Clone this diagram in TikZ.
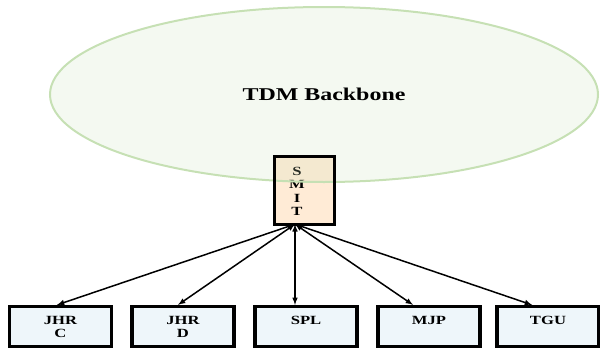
\documentclass[tikz,border=0pt]{standalone}
\usepackage{fontspec}
\setmainfont[FakeStretch=1.33]{Liberation Serif}
\usepackage{tikz}
\usetikzlibrary{positioning}
\usetikzlibrary{arrows}
\usetikzlibrary{shapes}
\definecolor{siteblue}{RGB}{238,246,250}
\definecolor{smitorange}{RGB}{255,235,214}
\definecolor{backgreen}{RGB}{200,225,185}
\definecolor{backline}{RGB}{198,224,180}

\begin{document}
\begin{tikzpicture}[x=1pt,y=-1pt,>=latex,
	site/.style={draw=black,line width=3.2pt,fill=siteblue,minimum width=102pt,minimum height=40pt,inner sep=0pt,align=center,font=\fontsize{12.5}{13}\selectfont\bfseries},
	oneline/.style={text depth=13pt},
	link/.style={<->,line width=1.5pt}]
	\useasboundingbox (0,0) rectangle (600,348);

	\node[fill=smitorange,minimum width=59pt,minimum height=67pt,inner sep=0pt,
		label={[xshift=-7.5pt,yshift=-1pt,align=center,font=\fontsize{12.5}{13.5}\selectfont\bfseries]center:{S\\M\\I\\T}}] (smit) at (304.5,190.5) {};

	\node[ellipse,draw=backline,line width=2pt,fill=backgreen,fill opacity=0.2,draw opacity=1,text opacity=1,
		minimum width=548pt,minimum height=175pt,inner sep=0pt,font=\fontsize{18}{20}\selectfont\bfseries] (tdm) at (324,94.5) {TDM Backbone};

	\draw[line width=3.2pt] (smit.north west) rectangle (smit.south east);

	\node[site] (jhrc) at (60.5,326.5) {JHR\\C};
	\node[site] (jhrd) at (183,326.5) {JHR\\D};
	\node[site,oneline] (spl) at (306,326.5) {SPL};
	\node[site,oneline] (mjp) at (429,326.5) {MJP};
	\node[site,oneline] (tgu) at (548,326.5) {TGU};

	\draw[link] ([xshift=-9.5pt]smit.south) -- ([xshift=-3.5pt]jhrc.north);
	\draw[link] ([xshift=-9.5pt]smit.south) -- ([xshift=-5pt]jhrd.north);
	\draw[link] ([xshift=-9.5pt]smit.south) -- ([xshift=-11pt]spl.north);
	\draw[link] ([xshift=-9.5pt]smit.south) -- ([xshift=-16pt]mjp.north);
	\draw[link] ([xshift=-9.5pt]smit.south) -- ([xshift=-16pt]tgu.north);
\end{tikzpicture}
\end{document}
